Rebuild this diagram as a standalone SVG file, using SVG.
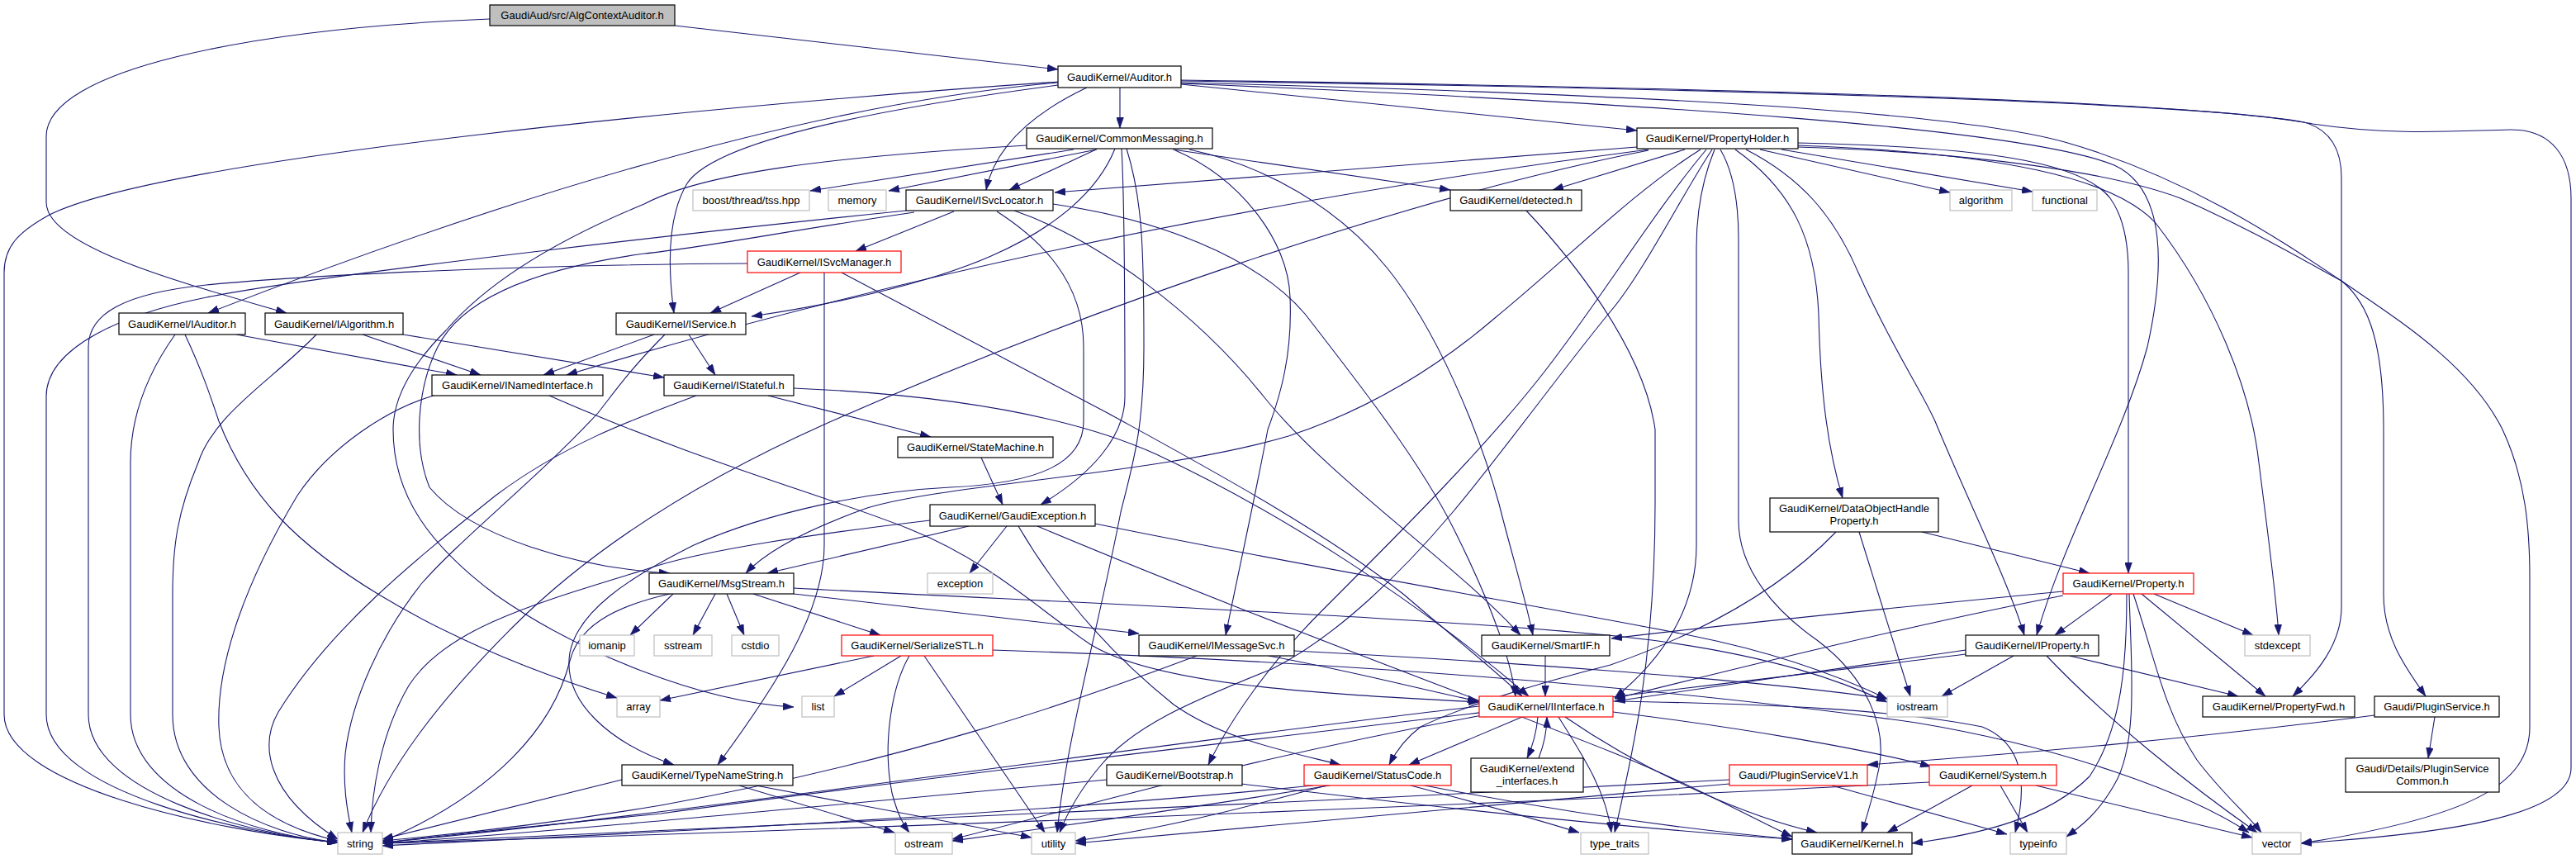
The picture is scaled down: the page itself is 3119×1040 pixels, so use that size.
<svg xmlns="http://www.w3.org/2000/svg" width="3119" height="1040" viewBox="0 0 3119 1040">
<defs>
<style>
.n rect{fill:#fff;stroke:#000;stroke-width:1.2}
.s rect{fill:#fff;stroke:#bfbfbf;stroke-width:1.2}
.r rect{fill:#fff;stroke:#ff0000;stroke-width:1.2}
.root rect{fill:#bfbfbf;stroke:#000;stroke-width:1.2}
text{font-family:"Liberation Sans",Arial,Helvetica,sans-serif;font-size:13px;text-anchor:middle;fill:#000}
#edges path{fill:none;stroke:#191970;stroke-width:1.1;marker-end:url(#ah)}
</style>
<marker id="ah" viewBox="0 0 13 9" refX="13" refY="4.5" markerWidth="13" markerHeight="9" markerUnits="userSpaceOnUse" orient="auto">
<path d="M0,0 L13,4.5 L0,9 z" fill="#191970" stroke="#191970" stroke-width="0.5"/>
</marker>
</defs>
<rect x="0" y="0" width="3119" height="1040" fill="#fff"/>
<g id="edges">
<path d="M817,31 L1281,84"/>
<path d="M593,23 C300,35 56,85 56,165 L56,245 C56,300 230,345 347,379"/>
<path d="M1356,106 L1356,155"/>
<path d="M1430,102 L1982,158"/>
<path d="M1316,106 C1255,135 1205,175 1194,230"/>
<path d="M1281,103 C1000,140 860,180 832,222 C808,262 808,320 816,379"/>
<path d="M1281,100 Q880,135 252,379"/>
<path d="M1281,99 C900,125 200,190 60,260 C20,282 5,300 5,330 L5,865 C5,950 250,1005 409,1020"/>
<path d="M1430,97 C2000,105 2650,120 2800,150 C2900,165 2980,158 3040,157 C3090,157 3113,190 3113,240 L3113,930 C3113,990 2950,1010 2786,1021"/>
<path d="M1430,98 C2000,106 2650,122 2790,148 C2825,158 2835,185 2835,215 L2835,735 C2835,780 2805,815 2776,843"/>
<path d="M1430,100 C1900,112 2350,130 2500,172 C2650,215 2760,290 2835,340 C2870,368 2886,420 2886,520 L2886,720 C2886,770 2910,805 2937,843"/>
<path d="M1430,101 C2000,125 2450,155 2560,200 C2625,230 2620,330 2600,420 C2570,530 2500,650 2466,769"/>
<path d="M1300,181 L981,231"/>
<path d="M1328,181 L1076,231"/>
<path d="M1327,181 L1222,230"/>
<path d="M1350,180 C1330,230 1280,275 1200,310 C1120,345 1000,370 910,383"/>
<path d="M1420,181 L1756,230"/>
<path d="M1358,180 C1362,250 1362,420 1362,480 C1362,530 1320,575 1260,611"/>
<path d="M1364,180 C1383,240 1385,300 1385,420 C1385,520 1372,560 1357,620 C1330,760 1290,900 1280,1008"/>
<path d="M1243,176 C1000,190 850,210 780,247 C700,280 600,330 540,400 C500,440 476,480 476,520 C476,600 520,660 600,720 C700,790 850,850 961,856"/>
<path d="M1423,182 C1500,215 1560,290 1562,360 C1565,430 1550,480 1535,520 C1520,600 1500,690 1484,769"/>
<path d="M1440,181 C1530,200 1620,250 1680,325 C1740,400 1790,520 1815,610 C1830,670 1846,720 1856,769"/>
<path d="M1982,178 L1277,233"/>
<path d="M2040,181 L1880,230"/>
<path d="M2131,181 L2361,233"/>
<path d="M2157,181 L2461,232"/>
<path d="M1996,181 Q1300,270 686,454"/>
<path d="M2177,173 C2400,178 2520,195 2555,240 C2573,265 2577,300 2577,330 L2577,694"/>
<path d="M2177,176 C2420,185 2560,215 2610,270 C2680,360 2725,470 2735,560 C2745,640 2756,720 2759,769"/>
<path d="M2177,178 C2400,185 2560,210 2640,240 C2720,275 2780,310 2835,340 C2900,385 2990,440 3030,520 C3058,580 3063,640 3063,700 L3063,880 C3063,950 2990,990 2786,1021"/>
<path d="M2114,181 C2180,215 2220,260 2250,330 C2290,420 2325,470 2343,510 C2380,600 2430,700 2451,769"/>
<path d="M2101,181 C2170,230 2198,290 2202,380 C2204,470 2212,540 2231,603"/>
<path d="M2083,181 C2100,210 2105,250 2105,290 L2105,630 C2105,690 2150,740 2200,775 C2260,820 2285,880 2275,930 C2268,965 2260,990 2254,1008"/>
<path d="M2076,181 C2060,220 2054,260 2054,300 L2054,660 C2054,740 2010,800 1955,845"/>
<path d="M2059,181 C1980,230 1890,320 1810,385 C1740,445 1660,495 1560,528 C1400,575 1150,585 1050,615 C980,640 930,665 903,694"/>
<path d="M2073,181 C2040,230 1990,330 1950,377 C1900,437 1810,560 1759,620 C1700,690 1620,770 1540,810 C1440,850 1370,880 1330,930 C1305,960 1290,990 1283,1008"/>
<path d="M2066,181 C2000,260 1940,360 1870,450 C1800,540 1700,640 1600,740 C1540,800 1490,870 1463,926"/>
<path d="M1996,182 C1700,240 1300,380 1000,513 C850,580 720,660 620,760 C530,850 470,930 439,1008"/>
<path d="M1126,630 C1000,645 850,665 780,690 C650,730 540,760 495,830 C460,890 450,960 449,1008"/>
<path d="M805,405 C760,450 740,480 724,500 C650,580 560,650 510,707 C460,770 425,850 418,913 C415,950 420,980 426,1008"/>
<path d="M1155,256 L1036,304"/>
<path d="M1097,255 C900,275 400,330 250,360 C150,380 56,420 56,480 L56,865 C56,960 300,1010 409,1020"/>
<path d="M1107,257 C950,280 850,300 780,307 C650,325 560,360 530,420 C505,470 500,540 520,590 C570,650 700,688 811,694"/>
<path d="M1207,256 C1260,290 1312,340 1312,420 L1312,510 C1312,560 1260,585 1150,590 C1050,595 930,620 840,660 C760,700 700,740 690,790 C680,850 740,900 816,926"/>
<path d="M1275,247 C1400,265 1520,310 1580,380 C1650,470 1720,560 1760,640 C1800,720 1828,790 1835,843"/>
<path d="M1228,255 C1330,290 1450,380 1530,480 C1610,580 1760,680 1841,769"/>
<path d="M969,330 L860,379"/>
<path d="M905,319 C700,320 400,330 250,345 C150,355 107,380 107,420 L107,865 C107,960 300,1010 409,1020"/>
<path d="M998,330 L998,660 C998,740 940,830 869,926"/>
<path d="M1019,330 L1341,500 C1450,560 1600,640 1700,720 C1770,780 1820,820 1843,843"/>
<path d="M286,405 L553,454"/>
<path d="M212,405 C180,450 158,500 158,560 L158,865 C158,960 300,1010 409,1020"/>
<path d="M224,405 C245,450 255,480 265,510 C300,600 360,660 459,720 C550,775 650,815 747,845"/>
<path d="M439,405 L582,454"/>
<path d="M488,405 L804,457"/>
<path d="M383,405 C330,460 260,500 240,560 C215,620 209,660 209,720 L209,865 C209,960 320,1010 409,1020"/>
<path d="M792,405 L658,454"/>
<path d="M834,405 L866,454"/>
<path d="M525,479 C470,495 400,540 360,600 C300,700 262,800 265,880 C268,960 330,1000 409,1018"/>
<path d="M665,479 C850,560 1000,600 1100,640 C1200,680 1260,740 1320,780 C1400,830 1600,840 1791,850"/>
<path d="M930,479 L1127,529"/>
<path d="M843,479 C760,510 680,540 600,600 C500,680 400,760 337,862 C315,900 320,960 409,1016"/>
<path d="M961,470 C1150,478 1300,505 1400,550 C1550,620 1720,730 1851,843"/>
<path d="M1188,554 L1214,611"/>
<path d="M1219,637 L1174,694"/>
<path d="M1173,637 L929,694"/>
<path d="M1233,637 C1270,700 1330,780 1421,853 C1480,895 1560,910 1623,926"/>
<path d="M1256,637 C1500,740 1800,850 1950,910 C2050,950 2120,990 2170,1013"/>
<path d="M1326,634 C1600,690 1900,740 2050,770 C2150,790 2230,820 2285,846"/>
<path d="M815,719 L763,769"/>
<path d="M866,719 L839,769"/>
<path d="M880,719 L901,769"/>
<path d="M912,719 L1066,769"/>
<path d="M961,719 L1379,767"/>
<path d="M961,712 C1300,730 1800,750 2000,775 C2150,795 2230,825 2285,850"/>
<path d="M811,719 C740,735 700,760 690,800 C670,880 600,960 463,1019"/>
<path d="M1058,794 L799,848"/>
<path d="M1091,794 L1010,843"/>
<path d="M1101,794 C1080,830 1068,900 1080,960 C1088,990 1095,1000 1101,1008"/>
<path d="M1119,794 L1265,1008"/>
<path d="M1202,787 C1600,800 2000,830 2320,875 C2500,905 2650,960 2723,1008"/>
<path d="M1449,794 C1300,850 1100,920 800,975 C650,1000 530,1012 463,1018"/>
<path d="M1536,794 C1650,815 1720,835 1790,849"/>
<path d="M1567,788 C1800,800 2100,820 2285,846"/>
<path d="M1871,794 L1871,843"/>
<path d="M2327,644 L2530,694"/>
<path d="M2251,644 L2313,843"/>
<path d="M2223,644 C2150,720 2050,770 1950,805 C1850,830 1760,860 1720,880 C1700,895 1690,910 1682,926"/>
<path d="M2557,719 L2488,769"/>
<path d="M2608,719 L2728,769"/>
<path d="M2593,719 L2743,843"/>
<path d="M2583,719 C2610,800 2620,860 2660,920 C2690,960 2720,985 2738,1008"/>
<path d="M2578,719 C2580,800 2590,900 2560,950 C2540,985 2520,1000 2502,1013"/>
<path d="M2575,719 C2575,800 2570,880 2530,940 C2480,990 2400,1010 2315,1021"/>
<path d="M2498,716 C2300,735 2100,755 1951,773"/>
<path d="M2498,721 C2300,760 2100,810 1955,846"/>
<path d="M2380,787 L1955,849"/>
<path d="M2438,794 L2351,843"/>
<path d="M2506,794 L2710,843"/>
<path d="M2478,794 C2550,870 2650,950 2733,1008"/>
<path d="M2380,792 C2000,840 1200,930 800,985 C600,1005 500,1015 463,1021"/>
<path d="M1843,868 L1706,926"/>
<path d="M1862,868 C1860,890 1855,905 1849,918"/>
<path d="M1887,868 C1920,920 1945,960 1951,1008"/>
<path d="M1895,868 C2000,940 2120,990 2200,1008"/>
<path d="M1953,862 C2100,880 2250,905 2338,928"/>
<path d="M1791,855 C1400,900 800,990 463,1020"/>
<path d="M1795,866 C1500,920 1300,980 1153,1016"/>
<path d="M1953,849 C2150,852 2300,860 2400,880 C2450,900 2455,950 2440,1008"/>
<path d="M1863,918 C1870,900 1873,885 1873,868"/>
<path d="M1610,951 C1400,985 1250,1005 1153,1018"/>
<path d="M1606,951 C1500,980 1400,1005 1302,1018"/>
<path d="M1590,951 C1200,990 700,1012 463,1024"/>
<path d="M1708,951 C1800,975 1870,995 1912,1008"/>
<path d="M1725,951 C1900,985 2050,1005 2170,1016"/>
<path d="M1340,944 C1000,975 700,1005 463,1021"/>
<path d="M1503,949 C1800,985 2000,1005 2170,1016"/>
<path d="M2094,944 C1500,975 800,1010 463,1021"/>
<path d="M2218,951 L2430,1010"/>
<path d="M2094,949 C1800,975 1500,1005 1302,1021"/>
<path d="M2422,951 L2455,1008"/>
<path d="M2465,951 L2727,1014"/>
<path d="M2388,951 L2285,1008"/>
<path d="M2336,947 C1800,975 1000,1005 463,1021"/>
<path d="M2948,868 L2940,918"/>
<path d="M2875,866 C2650,895 2450,912 2261,926"/>
<path d="M753,944 L463,1016"/>
<path d="M895,951 L1083,1008"/>
<path d="M915,951 L1249,1014"/>
<path d="M1848,255 C1900,310 1990,420 2004,520 L2004,610 C2004,800 1975,920 1955,1008"/>
</g>
<g id="n_root" class="root"><rect x="593" y="6" width="224" height="25"/><text x="705" y="23">GaudiAud/src/AlgContextAuditor.h</text></g>
<g id="n_auditor" class="n"><rect x="1281" y="80" width="149" height="26"/><text x="1355.5" y="97.5">GaudiKernel/Auditor.h</text></g>
<g id="n_commonmessaging" class="n"><rect x="1243" y="155" width="225" height="25"/><text x="1355.5" y="172">GaudiKernel/CommonMessaging.h</text></g>
<g id="n_propertyholder" class="n"><rect x="1982" y="155" width="195" height="25"/><text x="2079.5" y="172">GaudiKernel/PropertyHolder.h</text></g>
<g id="n_boost" class="s"><rect x="839" y="230" width="141" height="25"/><text x="909.5" y="247">boost/thread/tss.hpp</text></g>
<g id="n_memory" class="s"><rect x="1003" y="230" width="70" height="25"/><text x="1038" y="247">memory</text></g>
<g id="n_isvclocator" class="n"><rect x="1097" y="230" width="178" height="25"/><text x="1186" y="247">GaudiKernel/ISvcLocator.h</text></g>
<g id="n_detected" class="n"><rect x="1756" y="230" width="159" height="25"/><text x="1835.5" y="247">GaudiKernel/detected.h</text></g>
<g id="n_algorithm" class="s"><rect x="2361" y="230" width="75" height="25"/><text x="2398.5" y="247">algorithm</text></g>
<g id="n_functional" class="s"><rect x="2461" y="230" width="78" height="25"/><text x="2500" y="247">functional</text></g>
<g id="n_isvcmanager" class="r"><rect x="905" y="304" width="186" height="26"/><text x="998" y="321.5">GaudiKernel/ISvcManager.h</text></g>
<g id="n_iauditor" class="n"><rect x="144" y="379" width="153" height="26"/><text x="220.5" y="396.5">GaudiKernel/IAuditor.h</text></g>
<g id="n_ialgorithm" class="n"><rect x="321" y="379" width="167" height="26"/><text x="404.5" y="396.5">GaudiKernel/IAlgorithm.h</text></g>
<g id="n_iservice" class="n"><rect x="746" y="379" width="157" height="26"/><text x="824.5" y="396.5">GaudiKernel/IService.h</text></g>
<g id="n_inamedinterface" class="n"><rect x="523" y="454" width="207" height="25"/><text x="626.5" y="471">GaudiKernel/INamedInterface.h</text></g>
<g id="n_istateful" class="n"><rect x="804" y="454" width="157" height="25"/><text x="882.5" y="471">GaudiKernel/IStateful.h</text></g>
<g id="n_statemachine" class="n"><rect x="1087" y="529" width="188" height="25"/><text x="1181" y="546">GaudiKernel/StateMachine.h</text></g>
<g id="n_dataobjecthandleproperty" class="n"><rect x="2143" y="603" width="204" height="41"/><text x="2245" y="620">GaudiKernel/DataObjectHandle</text><text x="2245" y="635">Property.h</text></g>
<g id="n_gaudiexception" class="n"><rect x="1126" y="611" width="200" height="26"/><text x="1226" y="628.5">GaudiKernel/GaudiException.h</text></g>
<g id="n_msgstream" class="n"><rect x="786" y="694" width="175" height="25"/><text x="873.5" y="711">GaudiKernel/MsgStream.h</text></g>
<g id="n_exception" class="s"><rect x="1123" y="694" width="79" height="25"/><text x="1162.5" y="711">exception</text></g>
<g id="n_property" class="r"><rect x="2498" y="694" width="158" height="25"/><text x="2577" y="711">GaudiKernel/Property.h</text></g>
<g id="n_iomanip" class="s"><rect x="702" y="769" width="66" height="25"/><text x="735" y="786">iomanip</text></g>
<g id="n_sstream" class="s"><rect x="792" y="769" width="70" height="25"/><text x="827" y="786">sstream</text></g>
<g id="n_cstdio" class="s"><rect x="886" y="769" width="57" height="25"/><text x="914.5" y="786">cstdio</text></g>
<g id="n_serializestl" class="r"><rect x="1019" y="769" width="183" height="25"/><text x="1110.5" y="786">GaudiKernel/SerializeSTL.h</text></g>
<g id="n_imessagesvc" class="n"><rect x="1379" y="769" width="188" height="25"/><text x="1473" y="786">GaudiKernel/IMessageSvc.h</text></g>
<g id="n_smartif" class="n"><rect x="1794" y="769" width="155" height="25"/><text x="1871.5" y="786">GaudiKernel/SmartIF.h</text></g>
<g id="n_iproperty" class="n"><rect x="2380" y="769" width="161" height="25"/><text x="2460.5" y="786">GaudiKernel/IProperty.h</text></g>
<g id="n_stdexcept" class="s"><rect x="2718" y="769" width="79" height="25"/><text x="2757.5" y="786">stdexcept</text></g>
<g id="n_array" class="s"><rect x="747" y="843" width="52" height="25"/><text x="773" y="860">array</text></g>
<g id="n_list" class="s"><rect x="971" y="843" width="39" height="25"/><text x="990.5" y="860">list</text></g>
<g id="n_iinterface" class="r"><rect x="1791" y="843" width="162" height="25"/><text x="1872" y="860">GaudiKernel/IInterface.h</text></g>
<g id="n_iostream" class="s"><rect x="2285" y="843" width="73" height="25"/><text x="2321.5" y="860">iostream</text></g>
<g id="n_propertyfwd" class="n"><rect x="2667" y="843" width="184" height="25"/><text x="2759" y="860">GaudiKernel/PropertyFwd.h</text></g>
<g id="n_pluginservice" class="n"><rect x="2875" y="843" width="151" height="25"/><text x="2950.5" y="860">Gaudi/PluginService.h</text></g>
<g id="n_typenamestring" class="n"><rect x="753" y="926" width="207" height="25"/><text x="856.5" y="943">GaudiKernel/TypeNameString.h</text></g>
<g id="n_bootstrap" class="n"><rect x="1340" y="926" width="164" height="25"/><text x="1422" y="943">GaudiKernel/Bootstrap.h</text></g>
<g id="n_statuscode" class="r"><rect x="1579" y="926" width="178" height="25"/><text x="1668" y="943">GaudiKernel/StatusCode.h</text></g>
<g id="n_extend_interfaces" class="n"><rect x="1781" y="918" width="136" height="41"/><text x="1849" y="935">GaudiKernel/extend</text><text x="1849" y="950">_interfaces.h</text></g>
<g id="n_pluginservicev1" class="r"><rect x="2094" y="926" width="167" height="25"/><text x="2177.5" y="943">Gaudi/PluginServiceV1.h</text></g>
<g id="n_system" class="r"><rect x="2336" y="926" width="154" height="25"/><text x="2413" y="943">GaudiKernel/System.h</text></g>
<g id="n_pluginservicecommon" class="n"><rect x="2840" y="918" width="186" height="41"/><text x="2933" y="935">Gaudi/Details/PluginService</text><text x="2933" y="950">Common.h</text></g>
<g id="n_string" class="s"><rect x="409" y="1008" width="54" height="26"/><text x="436" y="1025.5">string</text></g>
<g id="n_ostream" class="s"><rect x="1084" y="1008" width="69" height="26"/><text x="1118.5" y="1025.5">ostream</text></g>
<g id="n_utility" class="s"><rect x="1249" y="1008" width="53" height="26"/><text x="1275.5" y="1025.5">utility</text></g>
<g id="n_type_traits" class="s"><rect x="1914" y="1008" width="82" height="26"/><text x="1955" y="1025.5">type_traits</text></g>
<g id="n_kernel" class="n"><rect x="2170" y="1008" width="145" height="26"/><text x="2242.5" y="1025.5">GaudiKernel/Kernel.h</text></g>
<g id="n_typeinfo" class="s"><rect x="2434" y="1008" width="68" height="26"/><text x="2468" y="1025.5">typeinfo</text></g>
<g id="n_vector" class="s"><rect x="2727" y="1008" width="59" height="26"/><text x="2756.5" y="1025.5">vector</text></g>
</svg>
